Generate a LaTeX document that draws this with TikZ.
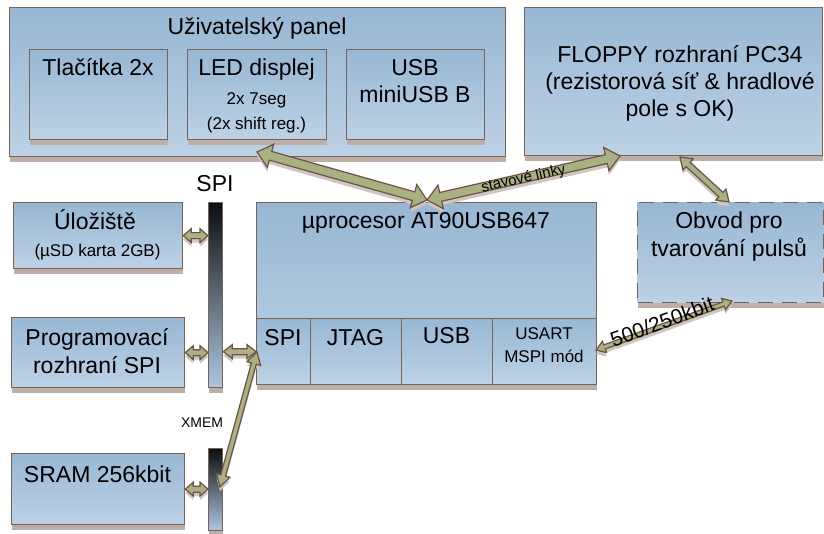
\documentclass[tikz,border=0pt]{standalone}
\usepackage{fontspec}
\setmainfont{Liberation Sans}
\usetikzlibrary{calc,shadows}
\definecolor{boxtop}{HTML}{98B7D3}
\definecolor{boxbot}{HTML}{BDD2E5}
\definecolor{edgec}{HTML}{76645B}
\definecolor{shadowc}{HTML}{BBAFA8}
\definecolor{arrfill}{HTML}{A9B183}
\definecolor{arredge}{HTML}{6C5246}
\definecolor{arrshad}{HTML}{CFC6C1}
\definecolor{bartop}{HTML}{0C0E10}
\definecolor{barbot}{HTML}{ADC7DF}
\newcommand{\bapath}[5]{let \p1=($(#2)-(#1)$), \n1={atan2(\y1,\x1)} in
 (#1) -- ($(#1)+(\n1:#5)+(\n1+90:#4)$) -- ($(#1)+(\n1:#5)+(\n1+90:#3)$)
 -- ($(#2)+(\n1+180:#5)+(\n1+90:#3)$) -- ($(#2)+(\n1+180:#5)+(\n1+90:#4)$)
 -- (#2) -- ($(#2)+(\n1+180:#5)+(\n1-90:#4)$) -- ($(#2)+(\n1+180:#5)+(\n1-90:#3)$)
 -- ($(#1)+(\n1:#5)+(\n1-90:#3)$) -- ($(#1)+(\n1:#5)+(\n1-90:#4)$) -- cycle}
\newcommand{\barr}[5]{%
 \fill[arrshad, transform canvas={yshift=-4pt}] \bapath{#1}{#2}{#3}{#4}{#5};
 \draw[blockarr] \bapath{#1}{#2}{#3}{#4}{#5};}
\tikzset{
 box/.style={draw=edgec, line width=1.3pt, top color=boxtop, bottom color=boxbot,
   inner sep=0pt, anchor=north west, general shadow={fill=shadowc, shadow yshift=-5pt}},
 cell/.style={draw=edgec, line width=1.3pt, top color=boxtop, bottom color=boxbot,
   inner sep=0pt, anchor=north west},
 bar/.style={draw=edgec, line width=1.3pt, top color=bartop, bottom color=barbot,
   inner sep=0pt, anchor=north west, general shadow={fill=shadowc, shadow yshift=-5pt}},
 blockarr/.style={fill=arrfill, draw=arredge, line width=1.2pt, line join=miter},
 tbig/.style={font=\fontsize{23}{27}\selectfont, inner sep=0pt, anchor=base},
 tmid/.style={font=\fontsize{17}{20}\selectfont, inner sep=0pt, anchor=base},
 tsmall/.style={font=\fontsize{14}{17}\selectfont, inner sep=0pt, anchor=base},
}
\begin{document}
\begin{tikzpicture}[x=1pt, y=-1pt]
\useasboundingbox[fill=white] (0,0) rectangle (824,534);
% boxes
\node[box, minimum width=496pt, minimum height=149pt] (panel) at (9,7) {};
\node[box, minimum width=138pt, minimum height=90pt] (tl) at (29,49) {};
\node[box, minimum width=139pt, minimum height=90pt] (led) at (187,49) {};
\node[box, minimum width=138pt, minimum height=90pt] (usbp) at (346,49) {};
\node[box, minimum width=298pt, minimum height=148pt] (floppy) at (524,7) {};
\node[box, minimum width=169pt, minimum height=66pt] (stor) at (13,202) {};
\node[box, minimum width=173pt, minimum height=70pt] (prog) at (11,317) {};
\node[box, minimum width=173pt, minimum height=71pt] (sram) at (11,453) {};
\node[box, minimum width=340pt, minimum height=182pt] (proc) at (256,202) {};
\node[cell, minimum width=54pt, minimum height=66pt] (cspi) at (256,318) {};
\node[cell, minimum width=91pt, minimum height=66pt] (cjtag) at (310,318) {};
\node[cell, minimum width=91pt, minimum height=66pt] (cusb) at (401,318) {};
\node[cell, minimum width=104pt, minimum height=66pt] (cusart) at (492,318) {};
\node[box, minimum width=186pt, minimum height=100pt, dash pattern=on 15pt off 9pt] (obvod) at (637,202) {};
\node[bar, minimum width=14pt, minimum height=185pt] (spibar) at (208,202) {};
\node[bar, minimum width=14pt, minimum height=82pt] (xbar) at (208,448) {};
% texts
\node[tbig] (panelT) at (257,35) {Uživatelský panel};
\node[tbig] (tlT) at (98,76) {Tlačítka 2x};
\node[tbig] (ledT) at (256.5,76) {LED displej};
\node[tmid] (ledT2) at (256.5,105) {2x 7seg};
\node[tmid] (ledT3) at (256.5,130) {(2x shift reg.)};
\node[tbig] (usbT) at (415,76) {USB};
\node[tbig] (usbT2) at (415,103) {miniUSB B};
\node[tbig] (flT1) at (680,63) {FLOPPY rozhraní PC34};
\node[tbig] (flT2) at (680,90) {(rezistorová síť \& hradlové};
\node[tbig] (flT3) at (680,117) {pole s OK)};
\node[tbig] (storT) at (95,230) {Úložiště};
\node[tmid] (storT2) at (97.5,257) {(µSD karta 2GB)};
\node[tbig] (spiL) at (215,192) {SPI};
\node[tbig] (procT) at (426,229) {µprocesor AT90USB647};
\node[tbig] (cspiT) at (283,345) {SPI};
\node[tbig] (cjtagT) at (355.5,345) {JTAG};
\node[tbig] (cusbT) at (446.5,344) {USB};
\node[tmid] (cusartT) at (544,340) {USART};
\node[tmid] (cusartT2) at (544,362) {MSPI mód};
\node[tbig] (progT) at (97,345) {Programovací};
\node[tbig] (progT2) at (97,373) {rozhraní SPI};
\node[tbig] (sramT) at (97.5,482) {SRAM 256kbit};
\node[tsmall] (xmemT) at (202,427) {XMEM};
\node[tbig] (obT) at (729,229) {Obvod pro};
\node[tbig] (obT2) at (729,257) {tvarování pulsů};
% arrow end points
\coordinate (aPan) at (257,152);
\coordinate (aProc) at (427,200);
\coordinate (aFl) at (620,156);
\coordinate (aFl2) at (680,157);
\coordinate (aOb) at (729,202);
\coordinate (aOb2) at (732,301);
\coordinate (aUs) at (596,350);
\coordinate (aX1) at (257,352);
\coordinate (aX2) at (220,487);
% arrows
\barr{aPan}{aProc}{4.5pt}{12pt}{14pt}
\barr{aProc}{aFl}{4.5pt}{12pt}{14pt}
\barr{aFl2}{aOb}{3pt}{7.5pt}{11pt}
\barr{aUs}{aOb2}{2.2pt}{6pt}{9pt}
\barr{stor.east}{spibar.west|-stor.east}{3pt}{7pt}{8pt}
\barr{prog.east}{spibar.west|-prog.east}{3pt}{7pt}{8pt}
\barr{spibar.east|-cspi.west}{cspi.west}{3pt}{7pt}{9pt}
\barr{sram.east}{xbar.west|-sram.east}{3pt}{7pt}{8pt}
\barr{aX1}{aX2}{2.5pt}{7pt}{12pt}
% arrow labels
\node[font=\fontsize{15}{18}\selectfont, inner sep=0pt, rotate=12.8] (lblStav) at ($(aProc)!0.5!(aFl)+(0,1)$) {stavové linky};
\node[font=\fontsize{21}{25}\selectfont, inner sep=0pt, rotate=20] (lblRate) at ($(aUs)!0.5!(aOb2)+(-2,-4)$) {500/250kbit};
\end{tikzpicture}
\end{document}
